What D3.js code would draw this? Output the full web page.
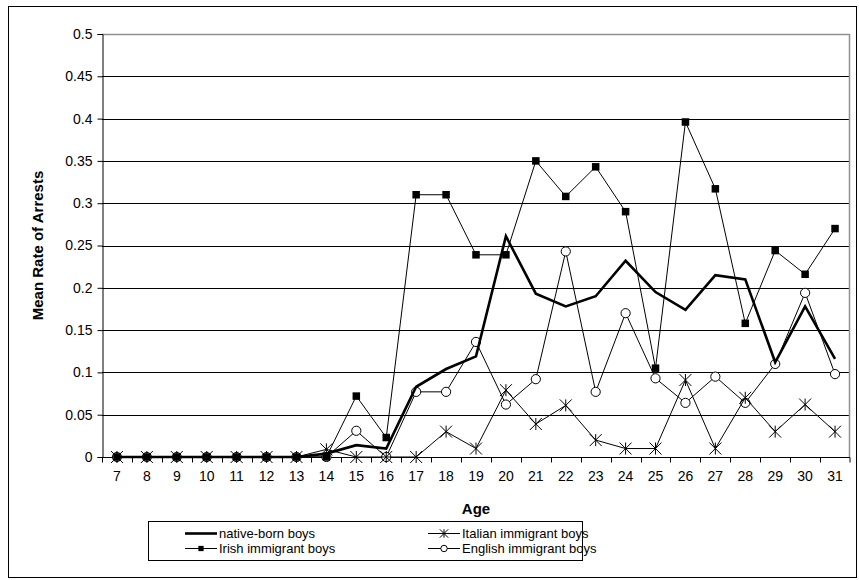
<!DOCTYPE html>
<html>
<head>
<meta charset="utf-8">
<script src="https://cdn.jsdelivr.net/npm/d3@7"></script>
<style>
  body { margin: 0; background: #fff; }
  svg { display: block; font-family: "Liberation Sans", Arial, sans-serif; }
</style>
</head>
<body>
<svg id="plot"></svg>
<script>
const width = 859;
const height = 580;

// ages on the x axis
const ages = [7,8,9,10,11,12,13,14,15,16,17,18,19,20,21,22,23,24,25,26,27,28,29,30,31];

const yTicks = [0,0.05,0.1,0.15,0.2,0.25,0.3,0.35,0.4,0.45,0.5];

const native  = [0,0,0,0,0,0,0,0.004,0.014,0.01,0.083,0.104,0.119,0.261,0.193,0.178,0.19,0.232,0.195,0.174,0.215,0.21,0.112,0.178,0.116];
const irish   = [0,0,0,0,0,0,0,0,0.072,0.023,0.31,0.31,0.239,0.239,0.35,0.308,0.343,0.29,0.105,0.396,0.317,0.158,0.244,0.216,0.27];
const italian = [0,0,0,0,0,0,0,0.009,0,0,0,0.03,0.01,0.079,0.039,0.061,0.02,0.01,0.01,0.091,0.01,0.07,0.03,0.062,0.03];
const english = [0,0,0,0,0,0,0,0,0.031,0,0.077,0.077,0.136,0.062,0.092,0.243,0.077,0.17,0.093,0.064,0.095,0.064,0.11,0.194,0.098];

const seriesNames = ['native-born boys','Italian immigrant boys','Irish immigrant boys','English immigrant boys'];

const plot = {left: 102, right: 850, top: 34, bottom: 457};

let svg, sx, sy;

function main(){
  svg = d3.select('svg#plot')
  .attr('width', width)
  .attr('height', height);

  // outer chart border
  svg.append('rect')
  .attr('x', 8.5).attr('y', 6.5)
  .attr('width', 848).attr('height', 571)
  .attr('fill', 'none')
  .attr('stroke', '#000');

  sx = d3.scaleBand()
  .domain(ages)
  .range([plot.left, plot.right])
  .padding(0);

  sy = d3.scaleLinear()
  .domain([0, 0.5])
  .range([plot.bottom, plot.top]);

  drawGrid();
  drawAxes();

  // draw order: circles under squares/asterisks, thick line on top
  drawSeries(english, 'circle', 1);
  drawSeries(irish, 'square', 1);
  drawSeries(italian, 'star', 1);
  drawSeries(native, null, 2.6);

  drawLegend();
}

function drawGrid(){
  svg.selectAll('.grid')
  .data(yTicks.filter(d=>d>0 && d<0.5))
  .enter()
  .append('line')
  .attr('class', 'grid')
  .attr('x1', plot.left).attr('x2', plot.right)
  .attr('y1', d=>Math.round(sy(d))+0.5)
  .attr('y2', d=>Math.round(sy(d))+0.5)
  .attr('stroke', '#000')
  .attr('stroke-width', 1);

  // grey plot-area border on top and right
  svg.append('path')
  .attr('d', `M${plot.left},${plot.top+0.5}H${plot.right-0.5}V${plot.bottom}`)
  .attr('fill', 'none')
  .attr('stroke', '#909090')
  .attr('stroke-width', 1.5);
}

function drawAxes(){
  let yAxis = d3.axisLeft(sy)
  .tickValues(yTicks)
  .tickFormat(d=>String(+d.toFixed(2)))
  .tickSize(5)
  .tickPadding(5);

  let gy = svg.append('g')
  .attr('transform', `translate(${plot.left+0.5},0)`)
  .call(yAxis);
  gy.select('.domain').attr('stroke', '#000');
  gy.selectAll('text')
  .attr('font-size', 14)
  .attr('font-family', '"Liberation Sans", Arial, sans-serif')
  .attr('fill', '#000');

  // x axis: line, ticks between categories, labels centred
  let gx = svg.append('g')
  .attr('transform', `translate(0,${plot.bottom+0.5})`);
  gx.append('line')
  .attr('x1', plot.left).attr('x2', plot.right)
  .attr('stroke', '#000');
  gx.selectAll('.xtick')
  .data(ages.concat(['end']))
  .enter()
  .append('line')
  .attr('class', 'xtick')
  .attr('x1', d=>d==='end' ? plot.right : Math.round(sx(d))+0.5)
  .attr('x2', d=>d==='end' ? plot.right : Math.round(sx(d))+0.5)
  .attr('y1', 0).attr('y2', 5)
  .attr('stroke', '#000');
  gx.selectAll('.xlabel')
  .data(ages)
  .enter()
  .append('text')
  .attr('class', 'xlabel')
  .attr('x', d=>sx(d)+sx.bandwidth()/2)
  .attr('y', 23)
  .attr('text-anchor', 'middle')
  .attr('font-size', 14)
  .text(d=>d);

  svg.append('text')
  .attr('x', (plot.left+plot.right)/2)
  .attr('y', 514)
  .attr('text-anchor', 'middle')
  .attr('font-size', 15)
  .attr('font-weight', 'bold')
  .text('Age');

  svg.append('text')
  .attr('transform', `translate(43,${(plot.top+plot.bottom)/2}) rotate(-90)`)
  .attr('text-anchor', 'middle')
  .attr('font-size', 15)
  .attr('font-weight', 'bold')
  .text('Mean Rate of Arrests');
}

function starPath(s){
  return `M${-s},${-s}L${s},${s}M${-s},${s}L${s},${-s}M0,${-s}L0,${s}`;
}

function addMarker(g, type, x, y, scale){
  if(type==='square'){
    let s = 7.5*scale;
    g.append('rect')
    .attr('x', x-s/2).attr('y', y-s/2)
    .attr('width', s).attr('height', s)
    .attr('fill', '#000');
  }else if(type==='circle'){
    g.append('circle')
    .attr('cx', x).attr('cy', y)
    .attr('r', 4.6*scale)
    .attr('fill', '#fff')
    .attr('stroke', '#000')
    .attr('stroke-width', 1);
  }else if(type==='star'){
    g.append('path')
    .attr('transform', `translate(${x},${y})`)
    .attr('d', starPath(6*scale))
    .attr('fill', 'none')
    .attr('stroke', '#000')
    .attr('stroke-width', 1);
  }
}

function drawSeries(values, marker, lw){
  let g = svg.append('g');
  let line = d3.line()
  .x((d,i)=>sx(ages[i])+sx.bandwidth()/2)
  .y(d=>sy(d));

  g.append('path')
  .datum(values)
  .attr('d', line)
  .attr('fill', 'none')
  .attr('stroke', '#000')
  .attr('stroke-width', lw)
  .attr('stroke-linejoin', 'miter');

  if(marker){
    values.forEach((v,i)=>{
      addMarker(g, marker, sx(ages[i])+sx.bandwidth()/2, sy(v), 1);
    });
  }
}

function drawLegend(){
  svg.append('rect')
  .attr('x', 148.5).attr('y', 521.5)
  .attr('width', 434).attr('height', 39)
  .attr('fill', '#fff')
  .attr('stroke', '#000');

  let items = [
    {name: seriesNames[0], marker: null, lw: 2.6, x: 185, y: 533.5},
    {name: seriesNames[1], marker: 'star', lw: 1, x: 428, y: 533.5},
    {name: seriesNames[2], marker: 'square', lw: 1, x: 185, y: 548.5},
    {name: seriesNames[3], marker: 'circle', lw: 1, x: 428, y: 548.5}
  ];

  items.forEach(it=>{
    let g = svg.append('g');
    g.append('line')
    .attr('x1', it.x).attr('x2', it.x+32)
    .attr('y1', it.y).attr('y2', it.y)
    .attr('stroke', '#000')
    .attr('stroke-width', it.lw);
    if(it.marker){
      addMarker(g, it.marker, it.x+16, it.y, 0.7);
    }
    g.append('text')
    .attr('x', it.x+34)
    .attr('y', it.y+4.5)
    .attr('font-size', 13)
    .text(it.name);
  });
}

document.addEventListener('DOMContentLoaded', main);
</script>
</body>
</html>
